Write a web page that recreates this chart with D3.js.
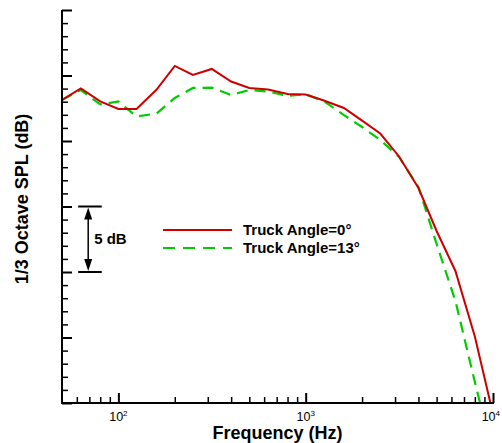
<!DOCTYPE html>
<html><head><meta charset="utf-8">
<script src="https://cdn.jsdelivr.net/npm/d3@7"></script>
<style>
html,body{margin:0;padding:0;background:#fff;}
svg{display:block;font-family:"Liberation Sans",Arial,Helvetica,sans-serif;}
</style></head>
<body>
<svg id="chart" width="502" height="443"></svg>
<script>
// 1/3 octave band centre frequencies (Hz)
const frequencies = [50,63,80,100,125,160,200,250,315,400,500,630,800,1000,1250,1600,2000,2500,3150,4000,5000,6300,8000,10000];
// relative SPL (dB, arbitrary offset; axis has no numeric labels)
const angle0 = [23.13,24.02,23.02,22.44,22.44,23.93,25.73,25.04,25.50,24.54,24.05,23.93,23.59,23.55,23.09,22.52,21.56,20.57,18.82,16.41,13.13,10.08,5.08,-0.84];
const angle13 = [23.13,23.89,22.79,23.02,21.87,22.10,23.28,24.05,24.07,23.51,23.89,23.78,23.44,23.56,23.05,21.98,21.07,20.08,18.78,16.49,12.14,7.79,1.60,-3.97];
const seriesNames = ["Truck Angle=0\u00B0","Truck Angle=13\u00B0"];
const xMajorTicks = [100,1000,10000];
const xTickExponents = ["2","3","4"];
const xMinorTicks = [60,70,80,90,200,300,400,500,600,700,800,900,2000,3000,4000,5000,6000,7000,8000,9000];
const yMajorTicks = [0,5,10,15,20,25,30];
const yMinorTicks = d3.range(0,31).filter(v=>v%5!==0);
const xTitle = "Frequency (Hz)";
const yTitle = "1/3 Octave SPL (dB)";
const scaleBarLabel = "5 dB";
const scaleBarRange = [10,15];

const svg = d3.select("#chart");
const L=62,R=493,T=10,B=403;
const x = d3.scaleLog().domain([50,10000]).range([L,R]);
const y = d3.scaleLinear().domain([0,30]).range([B,T]);

svg.append("defs").append("clipPath").attr("id","clip")
  .append("rect").attr("x",L).attr("y",T).attr("width",R-L).attr("height",B-T);

// lines
const line = d3.line().x((d,i)=>x(frequencies[i])).y(d=>y(d));
svg.append("path").datum(angle13).attr("clip-path","url(#clip)")
  .attr("d",line).attr("fill","none").attr("stroke","#00cc00").attr("stroke-width",2.2)
  .attr("stroke-dasharray","11,7");
svg.append("path").datum(angle0).attr("clip-path","url(#clip)")
  .attr("d",line).attr("fill","none").attr("stroke","#cc0000").attr("stroke-width",2);

function styleAxis(g, w){
  g.selectAll(".domain").remove();
  g.selectAll(".tick line").attr("stroke","#000").attr("stroke-width",w);
}
// x axis
const gxMinor = svg.append("g").attr("transform",`translate(0,${B})`)
  .call(d3.axisBottom(x).tickValues(xMinorTicks).tickSize(-6).tickFormat(()=>""));
styleAxis(gxMinor,1.5);
const gxMajor = svg.append("g").attr("transform",`translate(0,${B})`)
  .call(d3.axisBottom(x).tickValues(xMajorTicks).tickSize(-10).tickFormat(()=>""));
styleAxis(gxMajor,2);
gxMajor.append("path").attr("d",`M${L},0H${R+1}`).attr("stroke","#000").attr("stroke-width",2);
xMajorTicks.forEach((v,i)=>{
  const last = i===xMajorTicks.length-1;
  const t = gxMajor.append("text").attr("x",last ? 500 : x(v)).attr("y",18)
    .attr("text-anchor",last ? "end" : "middle")
    .attr("font-size",12.5).attr("fill","#000");
  t.append("tspan").text("10");
  t.append("tspan").attr("dy",-5).attr("font-size",8).text(xTickExponents[i]);
});

// y axis
const gyMinor = svg.append("g").attr("transform",`translate(${L},0)`)
  .call(d3.axisLeft(y).tickValues(yMinorTicks).tickSize(-6).tickFormat(()=>""));
styleAxis(gyMinor,1.5);
const gyMajor = svg.append("g").attr("transform",`translate(${L},0)`)
  .call(d3.axisLeft(y).tickValues(yMajorTicks).tickSize(-10).tickFormat(()=>""));
styleAxis(gyMajor,2);
gyMajor.append("path").attr("d",`M0,${B+1}V${T}`).attr("stroke","#000").attr("stroke-width",2);

// titles
svg.append("text").attr("x",(L+R)/2-0).attr("y",439).attr("text-anchor","middle")
  .attr("font-size",18).attr("font-weight","bold").text(xTitle);
svg.append("text").attr("transform",`translate(28,199) rotate(-90)`).attr("text-anchor","middle")
  .attr("font-size",18).attr("font-weight","bold").text(yTitle);

// 5 dB scale bar
const sbX = x(69), sbX0 = x(61), sbX1 = x(81.5);
const yTop = y(scaleBarRange[1]), yBot = y(scaleBarRange[0]);
const sb = svg.append("g");
sb.append("line").attr("x1",sbX0).attr("x2",sbX1).attr("y1",yTop).attr("y2",yTop).attr("stroke","#000").attr("stroke-width",2);
sb.append("line").attr("x1",sbX0).attr("x2",sbX1).attr("y1",yBot).attr("y2",yBot).attr("stroke","#000").attr("stroke-width",2);
sb.append("line").attr("x1",sbX).attr("x2",sbX).attr("y1",yTop+10).attr("y2",yBot-10).attr("stroke","#000").attr("stroke-width",1.5);
sb.append("path").attr("d",`M${sbX},${yTop+1}L${sbX-4},${yTop+13}L${sbX+4},${yTop+13}Z`).attr("fill","#000");
sb.append("path").attr("d",`M${sbX},${yBot-1}L${sbX-4},${yBot-13}L${sbX+4},${yBot-13}Z`).attr("fill","#000");
sb.append("text").attr("x",sbX+6).attr("y",(yTop+yBot)/2+5).attr("font-size",15).attr("font-weight","bold").text(scaleBarLabel);

// legend
const lg = svg.append("g");
const legY = [230,248];
lg.append("line").attr("x1",163).attr("x2",232).attr("y1",legY[0]).attr("y2",legY[0]).attr("stroke","#cc0000").attr("stroke-width",2);
lg.append("line").attr("x1",163).attr("x2",232).attr("y1",legY[1]).attr("y2",legY[1]).attr("stroke","#00cc00").attr("stroke-width",2.2).attr("stroke-dasharray","12,8");
seriesNames.forEach((s,i)=>{
  lg.append("text").attr("x",243).attr("y",legY[i]+5).attr("font-size",15).attr("font-weight","bold").text(s);
});
</script>
</body></html>
